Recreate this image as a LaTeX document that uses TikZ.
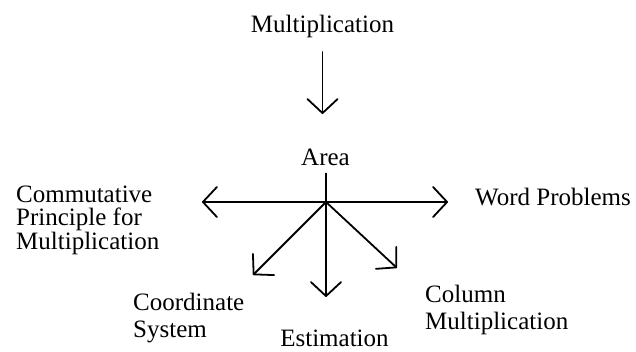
\documentclass[tikz,border=0pt]{standalone}
\usepackage{fontspec}
\setmainfont{Liberation Serif}
\usetikzlibrary{arrows.meta}
\begin{document}
\begin{tikzpicture}[x=1pt,y=-1pt,
  lbl/.style={inner sep=0pt, font=\fontsize{25}{27}\selectfont, align=left},
  lbltight/.style={lbl, font=\fontsize{25}{22.6}\selectfont},
  conn/.style={line width=1.8pt, line cap=round},
  arr/.style={conn, -{Straight Barb[length=14pt,width=30pt,line width=1.8pt,round]}}]
\useasboundingbox (0,0) rectangle (636,351);
% labels
\node[lbl, anchor=base] (mult) at (322.5,32) {Multiplication};
\node[lbl, anchor=base] (area) at (325.5,165) {Area};
\node[lbltight, anchor=base west] (comm) at (16,249) {Commutative\\Principle for\\Multiplication};
\node[lbl, anchor=base west] (word) at (475,205) {Word Problems};
\node[lbl, anchor=base west] (coord) at (133,337) {Coordinate\\System};
\node[lbl, anchor=base] (est) at (334.5,346) {Estimation};
\node[lbl, anchor=base west] (col) at (425,329) {Column\\Multiplication};
% connector points
\coordinate (hub) at (326,202);
\coordinate (downstart) at (322.5,52);
\coordinate (downtip) at (322.5,114);
\coordinate (tipL) at (202,202);
\coordinate (tipR) at (448,202);
\coordinate (tipSW) at (253,275);
\coordinate (tipS) at (326,297);
\coordinate (tipSE) at (397,268);
% connectors
\draw[arr] (downstart) -- (downtip);
\draw[conn, shorten <=8pt] (area.south -| hub) -- (hub);
\draw[arr] (hub) -- (tipL);
\draw[arr] (hub) -- (tipR);
\draw[arr] (hub) -- (tipSW);
\draw[arr] (hub) -- (tipS);
\draw[arr] (hub) -- (tipSE);
\end{tikzpicture}
\end{document}
